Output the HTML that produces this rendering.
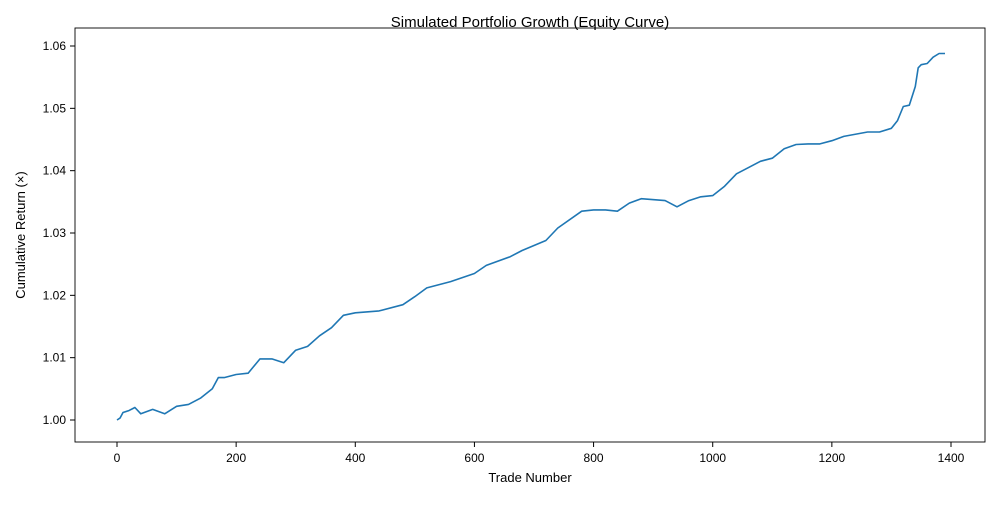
<!DOCTYPE html>
<html><head><meta charset="utf-8"><style>
body{margin:0;background:#fff;}
svg text{font-family:"Liberation Sans",sans-serif;fill:#000;}
</style></head><body>
<svg id="chart" width="1000" height="500">
<rect width="1000" height="500" fill="#fff"/>
<text x="530" y="27" font-size="15" text-anchor="middle">Simulated Portfolio Growth (Equity Curve)</text>
<g id="ticks"></g>
<path id="line" fill="none" stroke="#1f77b4" stroke-width="1.6" stroke-linejoin="round"/>
<rect x="75" y="28" width="910" height="414" fill="none" stroke="#000" stroke-width="0.9"/>
<text x="530" y="482" font-size="13" text-anchor="middle">Trade Number</text>
<text transform="translate(25,235) rotate(-90)" font-size="13" text-anchor="middle">Cumulative Return (×)</text>
</svg>
<script>
const trades=[0,5,10,20,30,40,60,80,100,120,140,160,170,180,200,220,240,260,280,300,320,340,360,380,400,440,480,500,520,560,600,620,660,680,720,740,780,800,820,840,860,880,920,940,960,980,1000,1020,1040,1060,1080,1100,1120,1140,1160,1180,1200,1220,1260,1280,1300,1310,1320,1330,1340,1345,1350,1360,1370,1380,1390];
const returns=[1.0,1.0003,1.0012,1.0015,1.002,1.001,1.0017,1.001,1.0022,1.0025,1.0035,1.005,1.0068,1.0068,1.0073,1.0075,1.0098,1.0098,1.0092,1.0112,1.0118,1.0135,1.0148,1.0168,1.0172,1.0175,1.0185,1.0198,1.0212,1.0222,1.0235,1.0248,1.0262,1.0272,1.0288,1.0308,1.0335,1.0337,1.0337,1.0335,1.0348,1.0355,1.0352,1.0342,1.0352,1.0358,1.036,1.0375,1.0395,1.0405,1.0415,1.042,1.0435,1.0442,1.0443,1.0443,1.0448,1.0455,1.0462,1.0462,1.0468,1.048,1.0503,1.0505,1.0535,1.0565,1.057,1.0572,1.0582,1.0588,1.0588];
const xTicks=[0,200,400,600,800,1000,1200,1400];
const yTicks=[1.00,1.01,1.02,1.03,1.04,1.05,1.06];
const xs=v=>117+v*(951-117)/1400;
const ys=v=>420-(v-1)*(420-46)/0.06;
const ns="http://www.w3.org/2000/svg";
const g=document.getElementById('ticks');
xTicks.forEach(t=>{
  const l=document.createElementNS(ns,'line');
  
  
  l.setAttribute('x1',xs(t));l.setAttribute('x2',xs(t));l.setAttribute('y1',442);l.setAttribute('y2',447);l.setAttribute('stroke','#000');
  g.appendChild(l);
  const tx=document.createElementNS(ns,'text');
  
  
  tx.setAttribute('x',xs(t));tx.setAttribute('y',462);tx.setAttribute('font-size','12');tx.setAttribute('text-anchor','middle');
  tx.textContent=t;g.appendChild(tx);
});
yTicks.forEach(t=>{
  const l=document.createElementNS(ns,'line');
  
  
  l.setAttribute('x1',70);l.setAttribute('x2',75);l.setAttribute('y1',ys(t));l.setAttribute('y2',ys(t));l.setAttribute('stroke','#000');
  g.appendChild(l);
  const tx=document.createElementNS(ns,'text');
  
  
  tx.setAttribute('x',66);tx.setAttribute('y',ys(t)+4);tx.setAttribute('font-size','12');tx.setAttribute('text-anchor','end');
  tx.textContent=t.toFixed(2);g.appendChild(tx);
});
document.getElementById('line').setAttribute('d',trades.map((t,i)=>(i?'L':'M')+xs(t).toFixed(1)+','+ys(returns[i]).toFixed(1)).join(''));
</script>
</body></html>
